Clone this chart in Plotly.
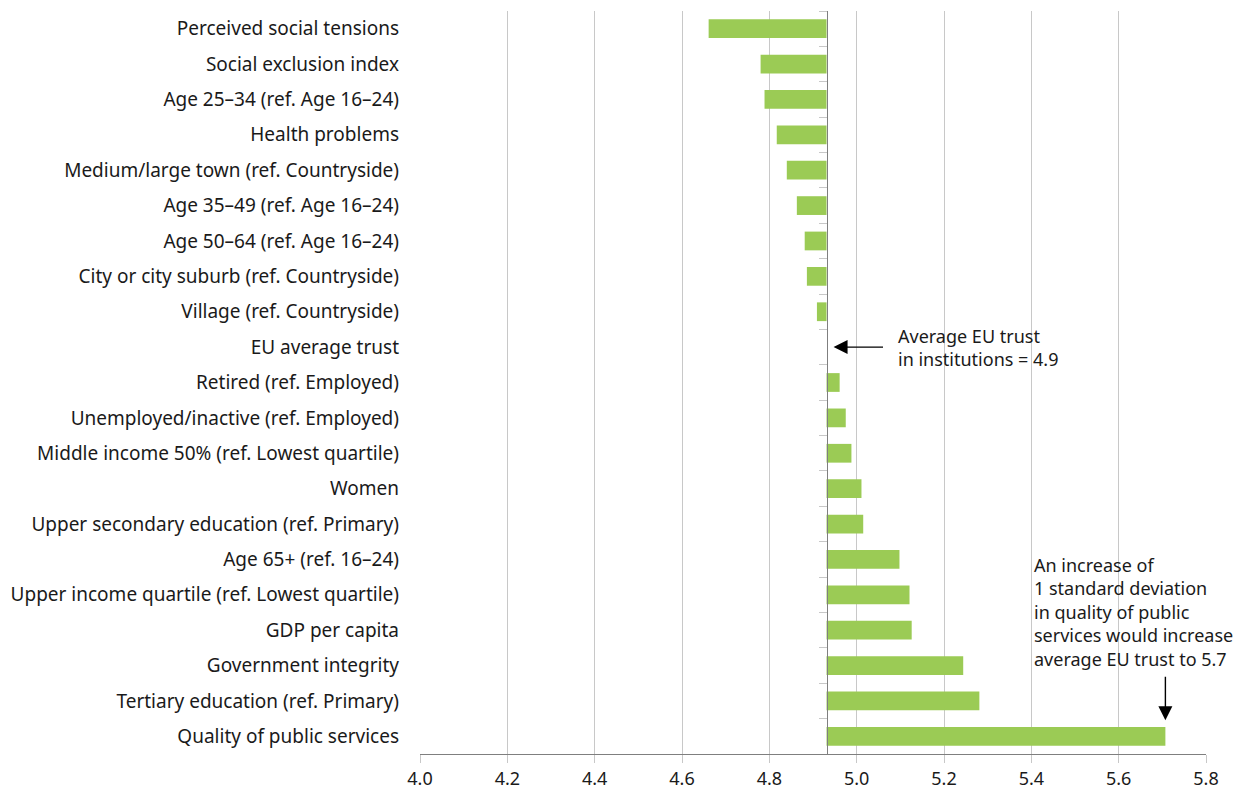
import plotly.graph_objects as go

categories = [
    "Perceived social tensions",
    "Social exclusion index",
    "Age 25–34 (ref. Age 16–24)",
    "Health problems",
    "Medium/large town (ref. Countryside)",
    "Age 35–49 (ref. Age 16–24)",
    "Age 50–64 (ref. Age 16–24)",
    "City or city suburb (ref. Countryside)",
    "Village (ref. Countryside)",
    "EU average trust",
    "Retired (ref. Employed)",
    "Unemployed/inactive (ref. Employed)",
    "Middle income 50% (ref. Lowest quartile)",
    "Women",
    "Upper secondary education (ref. Primary)",
    "Age 65+ (ref. 16–24)",
    "Upper income quartile (ref. Lowest quartile)",
    "GDP per capita",
    "Government integrity",
    "Tertiary education (ref. Primary)",
    "Quality of public services",
]
values = [4.661, 4.780, 4.789, 4.817, 4.840, 4.863, 4.881, 4.886, 4.909, 4.931,
          4.961, 4.975, 4.988, 5.011, 5.015, 5.098, 5.121, 5.126, 5.244, 5.281, 5.707]
eu_average = 4.931
x_ticks = [4.0, 4.2, 4.4, 4.6, 4.8, 5.0, 5.2, 5.4, 5.6, 5.8]

note_avg_lines = ["Average EU trust", "in institutions = 4.9"]
note_qps_lines = ["An increase of", "1 standard deviation", "in quality of public",
                  "services would increase", "average EU trust to 5.7"]

FONT = "Noto Sans"
FS = 19
XTICK_FS = 18
NOTE_FS = 18
TXT = "#1a1a1a"
GRID = "#c8c8c8"
AXIS = "#7f7f7f"
BAR = "#9BCB55"

n = len(categories)
deltas = [v - eu_average for v in values]

fig = go.Figure()
fig.add_trace(go.Bar(
    y=categories, x=deltas, base=eu_average, orientation="h",
    marker=dict(color=BAR, line=dict(width=0)), width=0.53,
    hoverinfo="skip", showlegend=False,
))
# invisible trace carrying the axis drawn at the EU average
fig.add_trace(go.Scatter(
    y=categories, x=[eu_average] * n, yaxis="y2", mode="markers",
    marker=dict(opacity=0, size=1), hoverinfo="skip", showlegend=False,
))

xmin, xmax = x_ticks[0], x_ticks[-1]
fig.update_layout(
    width=1248, height=783,
    margin=dict(l=412, r=50, t=3, b=37, autoexpand=False),
    paper_bgcolor="white", plot_bgcolor="white",
    font=dict(family=FONT, size=FS, color=TXT),
    xaxis=dict(
        range=[xmin, xmax], tickvals=x_ticks, ticktext=[f"{t:.1f}" for t in x_ticks],
        showgrid=True, gridcolor=GRID, gridwidth=1,
        ticks="outside", ticklen=8, tickcolor=GRID,
        showline=True, linecolor=AXIS, linewidth=1,
        zeroline=False, ticklabelstandoff=0, automargin=False,
        tickfont=dict(size=XTICK_FS, color=TXT),
    ),
    yaxis=dict(
        type="category", categoryorder="array", categoryarray=categories,
        range=[n - 0.5, -0.5], showgrid=False, showline=False, ticks="",
        ticklabelstandoff=20, automargin=False,
        tickfont=dict(size=FS, color=TXT),
    ),
    yaxis2=dict(
        type="category", categoryorder="array", categoryarray=categories,
        range=[n - 0.5, -0.5], overlaying="y", anchor="free",
        position=(eu_average - xmin) / (xmax - xmin),
        showgrid=False, showline=True, linecolor=AXIS, linewidth=1,
        ticks="outside", tickson="boundaries", ticklen=8, tickcolor=GRID,
        showticklabels=False, side="left", automargin=False,
    ),
    bargap=0.47,
)

# Arrow + note: average EU trust
fig.add_annotation(
    x=eu_average, y="EU average trust", xref="x", yref="y",
    text="", showarrow=True, ax=58, ay=0, axref="pixel", ayref="pixel",
    arrowhead=2, arrowsize=2.0, arrowwidth=1.4, arrowcolor="black", standoff=7,
)
fig.add_annotation(
    x=eu_average, y="EU average trust", xref="x", yref="y",
    text="<br>".join(note_avg_lines), showarrow=False, xanchor="left",
    yanchor="middle", align="left", xshift=69, yshift=0,
    font=dict(size=NOTE_FS, color=TXT),
)

# Arrow + note: quality of public services
fig.add_annotation(
    x=values[-1], y=categories[-1], xref="x", yref="y",
    text="", showarrow=True, ax=0, ay=-61, arrowhead=2, arrowsize=2.0,
    arrowwidth=1.4, arrowcolor="black", standoff=16,
)
fig.add_annotation(
    x=values[-1], y=categories[-1], xref="x", yref="y",
    text="<br>".join(note_qps_lines), showarrow=False, xanchor="left",
    yanchor="middle", align="left", xshift=-133, yshift=124,
    font=dict(size=NOTE_FS, color=TXT),
)

fig.write_html("out.html")
